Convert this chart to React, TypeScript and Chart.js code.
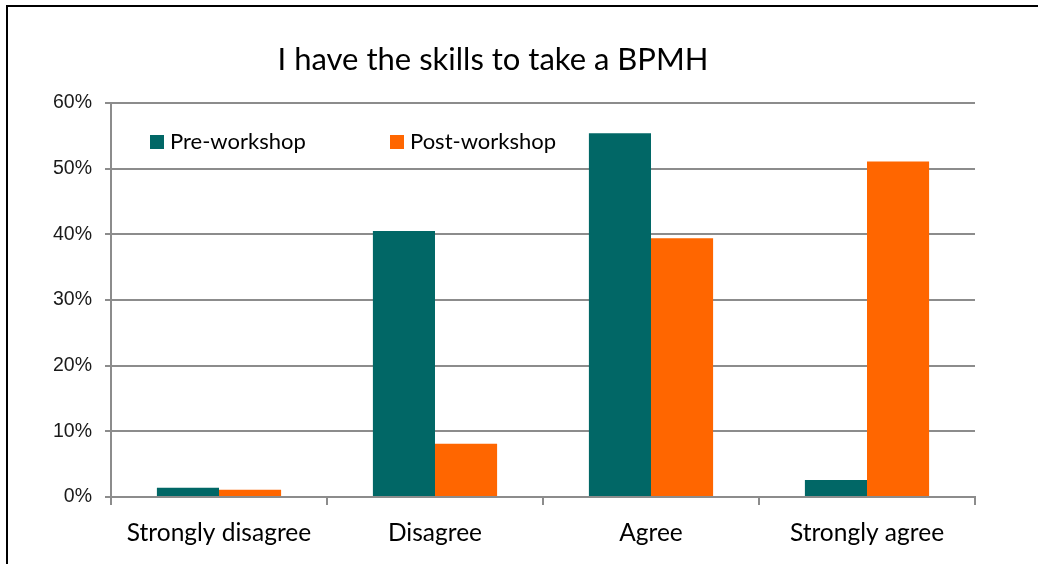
import React, { useEffect, useRef } from "react";
import { Chart, registerables } from "chart.js";

Chart.register(...registerables);

const categories = ["Strongly disagree", "Disagree", "Agree", "Strongly agree"];
const preWorkshop = [1.4, 40.5, 55.4, 2.6];
const postWorkshop = [1.1, 8.1, 39.4, 51.1];
const seriesLabels = ["Pre-workshop", "Post-workshop"];
const titleText = "I have the skills to take a BPMH";
const yTicks = [0, 10, 20, 30, 40, 50, 60];

const TEAL = "#016766";
const ORANGE = "#FF6600";
const GRID = "#8c8c8c";
const CAT_FONT = "Lato, 'Open Sans', sans-serif";

const framePlugin = {
  id: "frame",
  beforeDraw(chart: any) {
    const ctx = chart.ctx;
    ctx.save();
    ctx.fillStyle = "#ffffff";
    ctx.fillRect(0, 0, chart.width, chart.height);
    ctx.strokeStyle = "#000000";
    ctx.lineWidth = 2;
    ctx.beginPath();
    ctx.moveTo(7, chart.height);
    ctx.lineTo(7, 6);
    ctx.lineTo(chart.width, 6);
    ctx.stroke();
    ctx.restore();
  },
  afterDraw(chart: any) {
    const ctx = chart.ctx;
    ctx.save();
    // title
    ctx.fillStyle = "#000000";
    ctx.font = `31px ${CAT_FONT}`;
    ctx.textAlign = "center";
    ctx.textBaseline = "middle";
    ctx.fillText(titleText, 493, 60);
    // legend
    ctx.font = `22px ${CAT_FONT}`;
    ctx.textAlign = "left";
    const items = [
      { x: 150, color: TEAL, label: chart.data.datasets[0].label },
      { x: 390, color: ORANGE, label: chart.data.datasets[1].label },
    ];
    items.forEach((it) => {
      ctx.fillStyle = it.color;
      ctx.fillRect(it.x, 135, 14, 14);
      ctx.fillStyle = "#000000";
      ctx.fillText(it.label, it.x + 20, 142);
    });
    ctx.restore();
  },
};

export default function App() {
  const ref = useRef<HTMLCanvasElement | null>(null);
  useEffect(() => {
    if (!ref.current) return;
    const chart = new Chart(ref.current, {
      type: "bar",
      data: {
        labels: categories,
        datasets: [
          {
            label: seriesLabels[0],
            data: preWorkshop,
            backgroundColor: TEAL,
            barPercentage: 1,
            categoryPercentage: 0.575,
          },
          {
            label: seriesLabels[1],
            data: postWorkshop,
            backgroundColor: ORANGE,
            barPercentage: 1,
            categoryPercentage: 0.575,
          },
        ],
      },
      options: {
        animation: false,
        responsive: false,
        devicePixelRatio: 1,
        layout: { padding: { left: 0, right: 63, top: 103, bottom: 0 } },
        plugins: {
          legend: { display: false },
          title: { display: false },
          tooltip: { enabled: false },
        },
        scales: {
          x: {
            offset: true,
            grid: {
              display: true,
              offset: true,
              drawOnChartArea: false,
              drawTicks: true,
              tickLength: 8,
              color: GRID,
              lineWidth: 2,
            },
            border: { display: true, color: GRID, width: 2 },
            ticks: {
              color: "#000000",
              font: { family: CAT_FONT, size: 24.5 },
              padding: 13,
              maxRotation: 0,
            },
            afterFit(scale: any) {
              scale.height = 67;
            },
          },
          y: {
            min: 0,
            max: 60,
            afterBuildTicks(scale: any) {
              scale.ticks = yTicks.map((v) => ({ value: v }));
            },
            grid: {
              color: GRID,
              lineWidth: 2,
              tickLength: 6,
            },
            border: { display: true, color: GRID, width: 2 },
            ticks: {
              color: "#1a1a1a",
              font: { family: "'Liberation Sans', Arial, sans-serif", size: 19.5 },
              padding: 13,
              callback: (v: any) => `${v}%`,
            },
            afterFit(scale: any) {
              scale.width = 111;
            },
          },
        },
      },
      plugins: [framePlugin],
    });
    return () => chart.destroy();
  }, []);
  return (
    <div style={{ position: "fixed", left: 0, top: 0, width: 1038, height: 564, background: "#fff" }}>
      <canvas ref={ref} width={1038} height={564} style={{ display: "block", width: 1038, height: 564 }} />
    </div>
  );
}
